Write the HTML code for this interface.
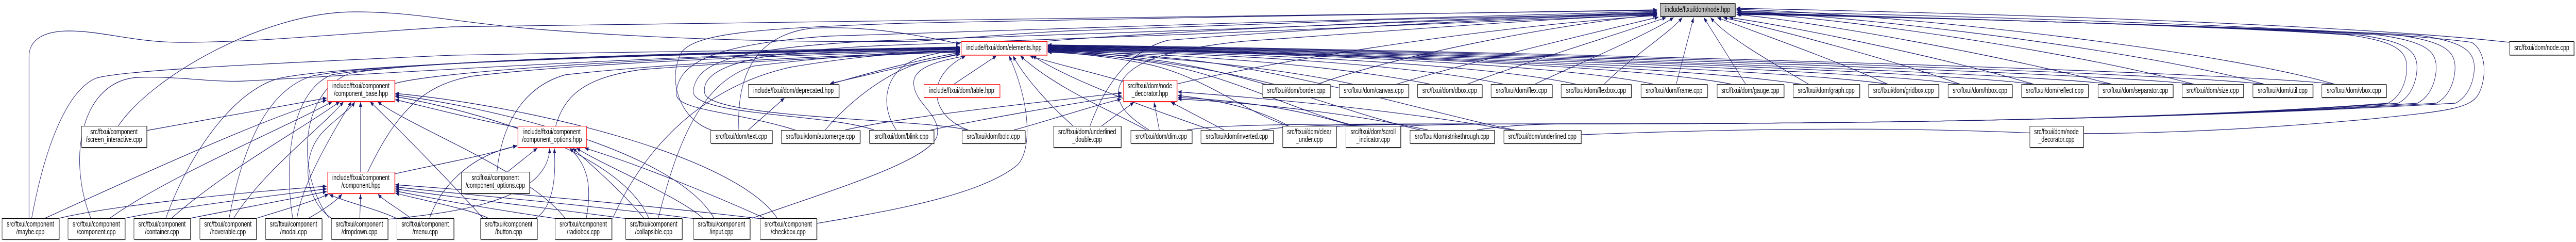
<!DOCTYPE html>
<html><head><meta charset="utf-8"><style>
html,body{margin:0;padding:0;background:#fff;overflow:hidden}
svg{display:block;position:fixed;left:0;top:0;width:100vw;height:100vh}
.t{font-family:"Liberation Sans",Arial,sans-serif;font-size:14.5px;text-anchor:middle;fill:#000}
.e path{fill:none;stroke:#191970;stroke-width:1.15}
.b{fill:#fff;stroke:#000;stroke-width:1}
.r{fill:#fff;stroke:#ff0000;stroke-width:1}
.g{fill:#bfbfbf;stroke:#000;stroke-width:1}
.s{stroke:#666;stroke-width:1.3;fill:none}
</style></head><body>
<svg viewBox="0 0 6837 469" preserveAspectRatio="none" xmlns="http://www.w3.org/2000/svg">
<defs><marker id="a" markerUnits="userSpaceOnUse" markerWidth="11" markerHeight="8" refX="10" refY="4" orient="auto"><path d="M0,0L10,4L0,8z" fill="#191970"/></marker></defs>
<rect width="6837" height="469" fill="#fff"/>
<g class="e">
<path marker-end="url(#a)" d="M157,423 C300,398 650,372 867,361"/>
<path marker-end="url(#a)" d="M331,423 C500,398 750,377 867,366"/>
<path marker-end="url(#a)" d="M505,423 C650,402 800,382 867,371"/>
<path marker-end="url(#a)" d="M681,423 C760,405 840,388 872,376"/>
<path marker-end="url(#a)" d="M819,423 C850,410 890,392 908,376"/>
<path marker-end="url(#a)" d="M955,423 L957,376"/>
<path marker-end="url(#a)" d="M1090,423 C1060,405 1020,390 1003,376"/>
<path marker-end="url(#a)" d="M1052,423 C1000,405 920,392 874,377"/>
<path marker-end="url(#a)" d="M1296,423 C1250,405 1100,385 1049,374"/>
<path marker-end="url(#a)" d="M1480,424 C1300,405 1150,385 1049,370"/>
<path marker-end="url(#a)" d="M1665,424 C1400,398 1150,378 1049,366"/>
<path marker-end="url(#a)" d="M1845,424 C1500,392 1150,372 1049,362"/>
<path marker-end="url(#a)" d="M2020,424 C1600,388 1200,366 1049,358"/>
<path marker-end="url(#a)" d="M389,253 C550,232 750,205 867,190"/>
<path marker-end="url(#a)" d="M119,423 C400,330 700,230 867,194"/>
<path marker-end="url(#a)" d="M291,423 C450,340 750,250 882,197"/>
<path marker-end="url(#a)" d="M455,423 C600,330 800,250 902,197"/>
<path marker-end="url(#a)" d="M620,423 C700,330 850,250 912,197"/>
<path marker-end="url(#a)" d="M788,423 C800,360 880,260 933,197"/>
<path marker-end="url(#a)" d="M880,423 C810,390 790,300 865,250 C900,225 930,212 942,197"/>
<path marker-end="url(#a)" d="M957,333 L957,197"/>
<path marker-end="url(#a)" d="M1282,423 C1230,380 1100,280 982,197"/>
<path marker-end="url(#a)" d="M1500,423 C1400,330 1100,250 1002,197"/>
<path marker-end="url(#a)" d="M1722,423 C1650,300 1300,220 1049,187"/>
<path marker-end="url(#a)" d="M1895,423 C1800,300 1350,213 1049,184"/>
<path marker-end="url(#a)" d="M2063,423 C1950,300 1400,205 1049,181"/>
<path marker-end="url(#a)" d="M1374,247 C1250,230 1120,205 1049,193"/>
<path marker-end="url(#a)" d="M1047,337 C1150,320 1300,300 1372,282"/>
<path marker-end="url(#a)" d="M1347,333 L1426,287"/>
<path marker-end="url(#a)" d="M1029,425 C1200,413 1455,390 1459,287"/>
<path marker-end="url(#a)" d="M1422,423 C1470,400 1476,340 1471,287"/>
<path marker-end="url(#a)" d="M1140,423 C1170,360 1250,300 1372,283"/>
<path marker-end="url(#a)" d="M1556,423 C1572,360 1560,320 1512,287"/>
<path marker-end="url(#a)" d="M1709,423 C1650,370 1570,320 1520,287"/>
<path marker-end="url(#a)" d="M1866,423 C1800,380 1600,320 1530,287"/>
<path marker-end="url(#a)" d="M2030,423 C1900,380 1700,320 1552,287"/>
<path marker-end="url(#a)" d="M1047,162 C1150,140 1700,110 2548,96"/>
<path marker-end="url(#a)" d="M976,333 C1050,220 1120,165 1250,148 C1500,125 2000,108 2548,98"/>
<path marker-end="url(#a)" d="M1475,244 C1500,180 1560,150 1700,135 C2000,118 2300,108 2548,100"/>
<path marker-end="url(#a)" d="M1319,333 C1330,250 1380,170 1500,145 C1800,120 2300,105 2548,101"/>
<path marker-end="url(#a)" d="M84,423 C115,300 170,180 253,152 C320,135 800,120 1200,107 C1700,100 2300,95 2548,92"/>
<path marker-end="url(#a)" d="M241,423 C175,300 220,155 367,150 C470,147 560,160 650,157 C900,148 1700,107 2548,95"/>
<path marker-end="url(#a)" d="M440,423 C500,300 620,175 740,152 C900,125 1700,106 2548,94"/>
<path marker-end="url(#a)" d="M608,423 C640,300 700,175 830,147 C1000,122 1700,105 2548,93"/>
<path marker-end="url(#a)" d="M777,423 C750,300 780,175 880,145 C1050,122 1700,104 2548,92"/>
<path marker-end="url(#a)" d="M874,423 C780,330 800,175 930,142 C1100,120 1700,103 2548,91"/>
<path marker-end="url(#a)" d="M1625,425 C1700,300 1850,170 2100,130 C2300,105 2450,100 2548,99"/>
<path marker-end="url(#a)" d="M1747,423 C1790,300 1850,160 2000,128 C2250,105 2450,100 2548,98"/>
<path marker-end="url(#a)" d="M1996,423 C2200,370 2480,310 2488,260 C2495,220 2425,200 2425,160 C2425,125 2520,115 2563,108"/>
<path marker-end="url(#a)" d="M2168,433 C2350,410 2600,380 2700,320 C2740,290 2735,200 2678,108"/>
<path marker-end="url(#a)" d="M314,244 C400,150 700,23 941,23 C1100,23 1200,42 1400,55 C1800,80 2200,82 2430,80 C2550,74 2700,65 2830,60 C3300,45 3900,32 4398,26"/>
<path marker-end="url(#a)" d="M77,423 L77,110 C77,75 120,60 184,60 C270,60 360,82 475,82 C700,82 900,65 1200,52 C1800,40 3000,28 4398,20"/>
<path marker-end="url(#a)" d="M2775,80 C3100,60 3900,35 4398,24"/>
<path marker-end="url(#a)" d="M1888,252 C1800,230 1770,150 1810,100 C1850,65 2000,55 2400,45 C3000,35 3900,25 4398,19"/>
<path marker-end="url(#a)" d="M2111,252 C1950,215 1790,215 1795,180 C1800,120 1900,85 2200,70 C2800,55 3900,30 4398,22"/>
<path marker-end="url(#a)" d="M2320,252 C2200,220 1830,225 1840,175 C1850,120 1950,95 2300,80 C2900,70 3900,35 4398,25"/>
<path marker-end="url(#a)" d="M2568,252 C2450,230 1880,230 1870,180 C1860,130 1990,100 2350,88 C3000,75 3900,40 4398,28"/>
<path marker-end="url(#a)" d="M2893,244 C2920,190 2980,100 3100,78 C3500,55 4000,35 4398,27"/>
<path marker-end="url(#a)" d="M3050,252 C2990,225 2960,200 2970,170 C2990,120 3100,95 3300,80 C3700,60 4100,35 4398,29"/>
<path marker-end="url(#a)" d="M3123,163 C3250,140 3800,60 4398,30"/>
<path marker-end="url(#a)" d="M1961,252 C1955,150 2000,70 2150,55 C2300,48 2450,70 2548,85"/>
<path marker-end="url(#a)" d="M1986,252 L2082,190"/>
<path marker-end="url(#a)" d="M2190,252 C2250,200 2350,140 2450,120 C2500,112 2530,108 2548,105"/>
<path marker-end="url(#a)" d="M2379,252 C2330,200 2350,130 2450,110 C2500,100 2530,98 2548,97"/>
<path marker-end="url(#a)" d="M2570,252 C2470,225 2450,150 2563,108"/>
<path marker-end="url(#a)" d="M2205,163 C2310,140 2450,114 2548,102"/>
<path marker-end="url(#a)" d="M2548,104 C2450,120 2300,145 2203,162"/>
<path marker-end="url(#a)" d="M2532,163 L2645,108"/>
<path marker-end="url(#a)" d="M2982,158 C2900,140 2780,120 2733,108"/>
<path marker-end="url(#a)" d="M2848,244 C2780,200 2720,150 2688,108"/>
<path marker-end="url(#a)" d="M3043,252 C2950,215 2800,170 2708,108"/>
<path marker-end="url(#a)" d="M3215,252 C3050,210 2850,160 2740,108"/>
<path marker-end="url(#a)" d="M3418,244 C3300,215 3200,150 3050,125 C2950,110 2850,103 2781,100"/>
<path marker-end="url(#a)" d="M3600,244 C3450,220 3250,140 3050,120 C2950,108 2850,100 2781,98"/>
<path marker-end="url(#a)" d="M3770,252 C3600,225 3300,135 3050,115 C2950,105 2850,98 2781,96"/>
<path marker-end="url(#a)" d="M4020,252 C3800,220 3400,130 3100,112 C2950,102 2850,96 2781,94"/>
<path marker-end="url(#a)" d="M3380,163 C3200,130 3000,108 2781,101"/>
<path marker-end="url(#a)" d="M3590,163 C3350,125 3000,105 2781,100"/>
<path marker-end="url(#a)" d="M3795,163 C3500,120 3050,102 2781,99"/>
<path marker-end="url(#a)" d="M3990,163 C3700,118 3100,100 2781,98"/>
<path marker-end="url(#a)" d="M4182,163 C3900,118 3150,99 2781,97"/>
<path marker-end="url(#a)" d="M4388,163 C4100,118 3200,98 2781,96"/>
<path marker-end="url(#a)" d="M4595,163 C4300,120 3200,98 2781,95"/>
<path marker-end="url(#a)" d="M4779,163 C4450,125 3300,98 2781,94"/>
<path marker-end="url(#a)" d="M5010,163 C4700,130 3300,97 2781,93"/>
<path marker-end="url(#a)" d="M5202,163 C4900,132 3400,97 2781,92"/>
<path marker-end="url(#a)" d="M5397,163 C5100,135 3500,96 2781,91"/>
<path marker-end="url(#a)" d="M5604,163 C5300,138 3600,96 2781,90"/>
<path marker-end="url(#a)" d="M5822,163 C5500,138 3700,96 2781,89"/>
<path marker-end="url(#a)" d="M6009,163 C5700,138 3800,96 2781,88"/>
<path marker-end="url(#a)" d="M6196,163 C5900,138 3900,96 2781,87"/>
<path marker-end="url(#a)" d="M2243,252 C2400,225 2800,195 2978,180"/>
<path marker-end="url(#a)" d="M2470,252 C2600,232 2850,200 2978,186"/>
<path marker-end="url(#a)" d="M2691,252 C2800,230 2900,205 2976,192"/>
<path marker-end="url(#a)" d="M2924,244 L3010,198"/>
<path marker-end="url(#a)" d="M3077,252 L3063,198"/>
<path marker-end="url(#a)" d="M3249,252 L3108,198"/>
<path marker-end="url(#a)" d="M3420,244 C3350,215 3250,195 3126,185"/>
<path marker-end="url(#a)" d="M3590,244 C3450,212 3300,195 3126,189"/>
<path marker-end="url(#a)" d="M3790,252 C3600,222 3350,200 3126,192"/>
<path marker-end="url(#a)" d="M4010,252 C3700,212 3350,190 3126,178"/>
<path marker-end="url(#a)" d="M3501,162 C3700,110 4100,50 4398,28"/>
<path marker-end="url(#a)" d="M3707,163 C3900,120 4250,60 4402,33"/>
<path marker-end="url(#a)" d="M3895,163 C4050,120 4300,65 4422,34"/>
<path marker-end="url(#a)" d="M4074,163 C4200,120 4380,65 4442,34"/>
<path marker-end="url(#a)" d="M4258,163 C4330,110 4430,65 4465,34"/>
<path marker-end="url(#a)" d="M4449,163 L4495,34"/>
<path marker-end="url(#a)" d="M4633,163 L4522,34"/>
<path marker-end="url(#a)" d="M4800,163 C4700,120 4580,70 4540,34"/>
<path marker-end="url(#a)" d="M5010,163 C4850,110 4650,60 4558,34"/>
<path marker-end="url(#a)" d="M5202,163 C5000,110 4700,55 4574,34"/>
<path marker-end="url(#a)" d="M5397,163 C5150,110 4750,50 4590,34"/>
<path marker-end="url(#a)" d="M5604,163 C5300,105 4800,40 4609,28"/>
<path marker-end="url(#a)" d="M5822,163 C5500,100 4900,35 4609,24"/>
<path marker-end="url(#a)" d="M6009,163 C5700,100 5000,35 4609,21"/>
<path marker-end="url(#a)" d="M6196,163 C5900,100 5100,30 4609,18"/>
<path marker-end="url(#a)" d="M6660,82 C6200,45 5200,25 4609,16"/>
<path marker-end="url(#a)" d="M3150,252 C3250,240 3450,240 4200,240 C5000,240 5800,230 6338,200 C6378,185 6388,150 6388,130 C6388,95 6348,80 6238,68 C5900,50 5000,32 4612,24"/>
<path marker-end="url(#a)" d="M3350,252 C3450,240 3650,240 4200,240 C5000,240 5800,230 6365,200 C6405,185 6415,150 6415,130 C6415,95 6375,80 6265,68 C5900,50 5000,32 4612,25"/>
<path marker-end="url(#a)" d="M3530,246 C3630,240 3830,240 4200,240 C5000,240 5800,230 6416,200 C6456,185 6466,150 6466,130 C6466,95 6426,80 6316,68 C5900,50 5000,32 4612,26"/>
<path marker-end="url(#a)" d="M3700,246 C3800,240 4000,240 4200,240 C5000,240 5800,230 6466,200 C6506,185 6516,150 6516,130 C6516,95 6476,80 6366,68 C5900,50 5000,32 4612,27"/>
<path marker-end="url(#a)" d="M3920,252 C4000,242 4100,240 4200,240 C5000,240 5800,230 6517,200 C6557,185 6567,150 6567,130 C6567,95 6527,80 6417,68 C5900,50 5000,32 4612,28"/>
<path marker-end="url(#a)" d="M4196,261 C4600,250 5000,245 5400,258 C5700,262 6000,250 6300,230 C6500,215 6560,210 6580,180 C6600,150 6600,100 6560,82 C6300,55 5200,30 4612,22"/>
</g>
<g>
<rect class="g" x="4406.5" y="6.5" width="199" height="25"/><path class="s" d="M4407,32.5H4606.5V7"/>
<rect class="r" x="2551.5" y="80.5" width="227" height="26"/><path class="s" d="M2552,107.5H2779.5V81" style="stroke:#f66"/>
<rect class="b" x="6660.5" y="80.5" width="171" height="26"/><path class="s" d="M6661,107.5H6832.5V81"/>
<rect class="r" x="869.5" y="155.5" width="178" height="41"/><path class="s" d="M870,197.5H1048.5V156" style="stroke:#f66"/>
<rect class="r" x="2981.5" y="155.5" width="142" height="41"/><path class="s" d="M2982,197.5H3124.5V156" style="stroke:#f66"/>
<rect class="b" x="1986.5" y="163.5" width="240" height="25"/><path class="s" d="M1987,189.5H2227.5V164"/>
<rect class="r" x="2452.5" y="163.5" width="201" height="25"/><path class="s" d="M2453,189.5H2654.5V164" style="stroke:#f66"/>
<rect class="b" x="3351.5" y="163.5" width="179" height="25"/><path class="s" d="M3352,189.5H3531.5V164"/>
<rect class="b" x="3554.5" y="163.5" width="184" height="25"/><path class="s" d="M3555,189.5H3739.5V164"/>
<rect class="b" x="3762.5" y="163.5" width="171" height="25"/><path class="s" d="M3763,189.5H3934.5V164"/>
<rect class="b" x="3957.5" y="163.5" width="162" height="25"/><path class="s" d="M3958,189.5H4120.5V164"/>
<rect class="b" x="4143.5" y="163.5" width="186" height="25"/><path class="s" d="M4144,189.5H4330.5V164"/>
<rect class="b" x="4355.5" y="163.5" width="176" height="25"/><path class="s" d="M4356,189.5H4532.5V164"/>
<rect class="b" x="4557.5" y="163.5" width="177" height="25"/><path class="s" d="M4558,189.5H4735.5V164"/>
<rect class="b" x="4759.5" y="163.5" width="176" height="25"/><path class="s" d="M4760,189.5H4936.5V164"/>
<rect class="b" x="4959.5" y="163.5" width="186" height="25"/><path class="s" d="M4960,189.5H5146.5V164"/>
<rect class="b" x="5170.5" y="163.5" width="170" height="25"/><path class="s" d="M5171,189.5H5341.5V164"/>
<rect class="b" x="5365.5" y="163.5" width="177" height="25"/><path class="s" d="M5366,189.5H5543.5V164"/>
<rect class="b" x="5568.5" y="163.5" width="199" height="25"/><path class="s" d="M5569,189.5H5768.5V164"/>
<rect class="b" x="5791.5" y="163.5" width="163" height="25"/><path class="s" d="M5792,189.5H5955.5V164"/>
<rect class="b" x="5979.5" y="163.5" width="159" height="25"/><path class="s" d="M5980,189.5H6139.5V164"/>
<rect class="b" x="6162.5" y="163.5" width="171" height="25"/><path class="s" d="M6163,189.5H6334.5V164"/>
<rect class="b" x="216.5" y="244.5" width="173" height="41"/><path class="s" d="M217,286.5H390.5V245"/>
<rect class="r" x="1374.5" y="244.5" width="182" height="41"/><path class="s" d="M1375,286.5H1557.5V245" style="stroke:#f66"/>
<rect class="b" x="2796.5" y="244.5" width="179" height="41"/><path class="s" d="M2797,286.5H2976.5V245"/>
<rect class="b" x="3404.5" y="244.5" width="142" height="41"/><path class="s" d="M3405,286.5H3547.5V245"/>
<rect class="b" x="3572.5" y="244.5" width="145" height="41"/><path class="s" d="M3573,286.5H3718.5V245"/>
<rect class="b" x="5387.5" y="244.5" width="142" height="41"/><path class="s" d="M5388,286.5H5530.5V245"/>
<rect class="b" x="1886.5" y="252.5" width="163" height="25"/><path class="s" d="M1887,278.5H2050.5V253"/>
<rect class="b" x="2073.5" y="252.5" width="209" height="25"/><path class="s" d="M2074,278.5H2283.5V253"/>
<rect class="b" x="2307.5" y="252.5" width="171" height="25"/><path class="s" d="M2308,278.5H2479.5V253"/>
<rect class="b" x="2553.5" y="252.5" width="167" height="25"/><path class="s" d="M2554,278.5H2721.5V253"/>
<rect class="b" x="3001.5" y="252.5" width="162" height="25"/><path class="s" d="M3002,278.5H3164.5V253"/>
<rect class="b" x="3187.5" y="252.5" width="192" height="25"/><path class="s" d="M3188,278.5H3380.5V253"/>
<rect class="b" x="3742.5" y="252.5" width="224" height="25"/><path class="s" d="M3743,278.5H3967.5V253"/>
<rect class="b" x="3991.5" y="252.5" width="205" height="25"/><path class="s" d="M3992,278.5H4197.5V253"/>
<rect class="r" x="869.5" y="333.5" width="178" height="41"/><path class="s" d="M870,375.5H1048.5V334" style="stroke:#f66"/>
<rect class="b" x="1224.5" y="333.5" width="181" height="41"/><path class="s" d="M1225,375.5H1406.5V334"/>
<rect class="b" x="5.5" y="423.5" width="151" height="40"/><path class="s" d="M6,464.5H157.5V424"/>
<rect class="b" x="180.5" y="423.5" width="151" height="40"/><path class="s" d="M181,464.5H332.5V424"/>
<rect class="b" x="355.5" y="423.5" width="150" height="40"/><path class="s" d="M356,464.5H506.5V424"/>
<rect class="b" x="530.5" y="423.5" width="150" height="40"/><path class="s" d="M531,464.5H681.5V424"/>
<rect class="b" x="704.5" y="423.5" width="150" height="40"/><path class="s" d="M705,464.5H855.5V424"/>
<rect class="b" x="879.5" y="423.5" width="150" height="40"/><path class="s" d="M880,464.5H1030.5V424"/>
<rect class="b" x="1053.5" y="423.5" width="151" height="40"/><path class="s" d="M1054,464.5H1205.5V424"/>
<rect class="b" x="1275.5" y="423.5" width="150" height="40"/><path class="s" d="M1276,464.5H1426.5V424"/>
<rect class="b" x="1473.5" y="423.5" width="150" height="40"/><path class="s" d="M1474,464.5H1624.5V424"/>
<rect class="b" x="1660.5" y="423.5" width="150" height="40"/><path class="s" d="M1661,464.5H1811.5V424"/>
<rect class="b" x="1840.5" y="423.5" width="150" height="40"/><path class="s" d="M1841,464.5H1991.5V424"/>
<rect class="b" x="2017.5" y="423.5" width="150" height="40"/><path class="s" d="M2018,464.5H2168.5V424"/>
</g>
<g class="t">
<text x="4505.5" y="23">include/ftxui/dom/node.hpp</text>
<text x="2664.5" y="97">include/ftxui/dom/elements.hpp</text>
<text x="6746" y="97">src/ftxui/dom/node.cpp</text>
<text x="958" y="171">include/ftxui/component</text><text x="958" y="186">/component_base.hpp</text>
<text x="3052" y="171">src/ftxui/dom/node</text><text x="3052" y="186">_decorator.hpp</text>
<text x="2106" y="180">include/ftxui/dom/deprecated.hpp</text>
<text x="2552.5" y="180">include/ftxui/dom/table.hpp</text>
<text x="3440.5" y="180">src/ftxui/dom/border.cpp</text>
<text x="3646" y="180">src/ftxui/dom/canvas.cpp</text>
<text x="3847.5" y="180">src/ftxui/dom/dbox.cpp</text>
<text x="4038" y="180">src/ftxui/dom/flex.cpp</text>
<text x="4236" y="180">src/ftxui/dom/flexbox.cpp</text>
<text x="4443" y="180">src/ftxui/dom/frame.cpp</text>
<text x="4645.5" y="180">src/ftxui/dom/gauge.cpp</text>
<text x="4847" y="180">src/ftxui/dom/graph.cpp</text>
<text x="5052" y="180">src/ftxui/dom/gridbox.cpp</text>
<text x="5255" y="180">src/ftxui/dom/hbox.cpp</text>
<text x="5453.5" y="180">src/ftxui/dom/reflect.cpp</text>
<text x="5667.5" y="180">src/ftxui/dom/separator.cpp</text>
<text x="5872.5" y="180">src/ftxui/dom/size.cpp</text>
<text x="6058.5" y="180">src/ftxui/dom/util.cpp</text>
<text x="6247.5" y="180">src/ftxui/dom/vbox.cpp</text>
<text x="302.5" y="260">src/ftxui/component</text><text x="302.5" y="275">/screen_interactive.cpp</text>
<text x="1465" y="260">include/ftxui/component</text><text x="1465" y="275">/component_options.hpp</text>
<text x="2885.5" y="260">src/ftxui/dom/underlined</text><text x="2885.5" y="275">_double.cpp</text>
<text x="3475" y="260">src/ftxui/dom/clear</text><text x="3475" y="275">_under.cpp</text>
<text x="3644.5" y="260">src/ftxui/dom/scroll</text><text x="3644.5" y="275">_indicator.cpp</text>
<text x="5458" y="260">src/ftxui/dom/node</text><text x="5458" y="275">_decorator.cpp</text>
<text x="1967.5" y="269">src/ftxui/dom/text.cpp</text>
<text x="2177.5" y="269">src/ftxui/dom/automerge.cpp</text>
<text x="2392.5" y="269">src/ftxui/dom/blink.cpp</text>
<text x="2636.5" y="269">src/ftxui/dom/bold.cpp</text>
<text x="3082" y="269">src/ftxui/dom/dim.cpp</text>
<text x="3283" y="269">src/ftxui/dom/inverted.cpp</text>
<text x="3854" y="269">src/ftxui/dom/strikethrough.cpp</text>
<text x="4093.5" y="269">src/ftxui/dom/underlined.cpp</text>
<text x="958" y="349">include/ftxui/component</text><text x="958" y="364">/component.hpp</text>
<text x="1314.5" y="349">src/ftxui/component</text><text x="1314.5" y="364">/component_options.cpp</text>
<text x="80.5" y="439">src/ftxui/component</text><text x="80.5" y="454">/maybe.cpp</text>
<text x="255.5" y="439">src/ftxui/component</text><text x="255.5" y="454">/component.cpp</text>
<text x="430" y="439">src/ftxui/component</text><text x="430" y="454">/container.cpp</text>
<text x="605" y="439">src/ftxui/component</text><text x="605" y="454">/hoverable.cpp</text>
<text x="779" y="439">src/ftxui/component</text><text x="779" y="454">/modal.cpp</text>
<text x="954" y="439">src/ftxui/component</text><text x="954" y="454">/dropdown.cpp</text>
<text x="1128.5" y="439">src/ftxui/component</text><text x="1128.5" y="454">/menu.cpp</text>
<text x="1350" y="439">src/ftxui/component</text><text x="1350" y="454">/button.cpp</text>
<text x="1548" y="439">src/ftxui/component</text><text x="1548" y="454">/radiobox.cpp</text>
<text x="1735" y="439">src/ftxui/component</text><text x="1735" y="454">/collapsible.cpp</text>
<text x="1915" y="439">src/ftxui/component</text><text x="1915" y="454">/input.cpp</text>
<text x="2092" y="439">src/ftxui/component</text><text x="2092" y="454">/checkbox.cpp</text>
</g>
</svg>
</body></html>
